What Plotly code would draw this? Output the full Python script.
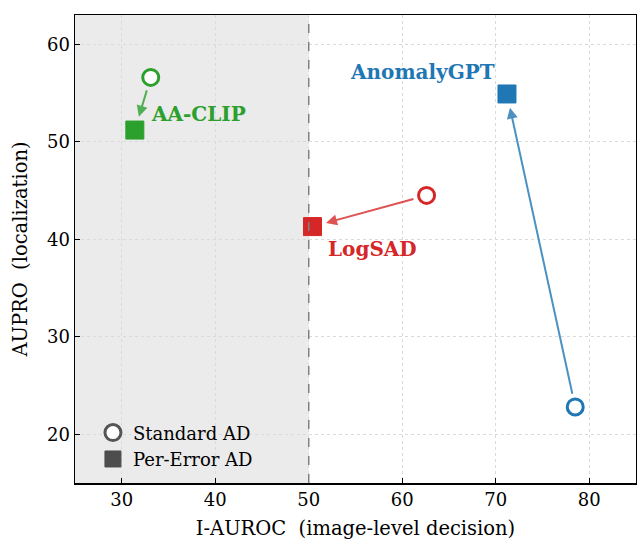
import plotly.graph_objects as go

methods = ["AA-CLIP", "LogSAD", "AnomalyGPT"]
std_auroc = [33.1, 62.6, 78.5]
std_aupro = [56.6, 44.5, 22.8]
pe_auroc = [31.4, 50.4, 71.2]
pe_aupro = [51.2, 41.3, 54.9]
threshold = 50
x_ticks = [30, 40, 50, 60, 70, 80]
y_ticks = [20, 30, 40, 50, 60]
x_title = "I-AUROC\u00a0\u00a0(image-level decision)"
y_title = "AUPRO\u00a0\u00a0(localization)"

colors = ["#2ca02c", "#d62728", "#1f77b4"]
arrow_colors = ["rgba(44,160,44,0.8)", "rgba(214,39,40,0.8)", "rgba(31,119,180,0.8)"]
label_pos = [(32.9, 52.85, "left"), (51.8, 38.95, "left"), (54.2, 57.2, "left")]

FONT = "DejaVu Serif"

fig = go.Figure()

for i, m in enumerate(methods):
    fig.add_trace(go.Scatter(
        x=[std_auroc[i]], y=[std_aupro[i]], mode="markers",
        marker=dict(symbol="circle", size=16, color="white",
                    line=dict(color=colors[i], width=3)),
        showlegend=False, hoverinfo="skip"))
    fig.add_trace(go.Scatter(
        x=[pe_auroc[i]], y=[pe_aupro[i]], mode="markers",
        marker=dict(symbol="square", size=18, color=colors[i],
                    line=dict(color=colors[i], width=1)),
        showlegend=False, hoverinfo="skip"))
    fig.add_annotation(
        x=pe_auroc[i], y=pe_aupro[i], ax=std_auroc[i], ay=std_aupro[i],
        xref="x", yref="y", axref="x", ayref="y", text="",
        showarrow=True, arrowhead=2, arrowsize=1.1, arrowwidth=2,
        arrowcolor=arrow_colors[i], standoff=14, startstandoff=12)
    lx, ly, anc = label_pos[i]
    fig.add_annotation(
        x=lx, y=ly, xref="x", yref="y", text="<b>%s</b>" % m,
        showarrow=False, xanchor=anc, yanchor="middle",
        font=dict(family=FONT, size=20, color=colors[i]))

# legend entries
fig.add_trace(go.Scatter(
    x=[None], y=[None], mode="markers", name="Standard AD",
    marker=dict(symbol="circle", size=16, color="white",
                line=dict(color="#555555", width=3))))
fig.add_trace(go.Scatter(
    x=[None], y=[None], mode="markers", name="Per-Error AD",
    marker=dict(symbol="square", size=18, color="#4d4d4d",
                line=dict(color="#4d4d4d", width=1))))

fig.add_shape(type="rect", xref="x", yref="paper", x0=25, x1=threshold, y0=0, y1=1,
              fillcolor="#ebebeb", line=dict(width=0), layer="below")
fig.add_shape(type="line", xref="x", yref="paper", x0=threshold, x1=threshold, y0=0, y1=1,
              line=dict(color="#808080", width=1.5, dash="dash"), layer="above")

axis_common = dict(
    showline=True, linecolor="black", linewidth=1.5, mirror=True,
    ticks="inside", ticklen=5, tickwidth=1, tickcolor="black",
    showgrid=True, gridcolor="#dadada", gridwidth=1, griddash="dot",
    zeroline=False, automargin=False,
    tickfont=dict(family=FONT, size=18, color="black"),
)

fig.update_xaxes(range=[25, 85], tickvals=x_ticks, **axis_common,
                 title=dict(text=x_title,
                            font=dict(family=FONT, size=19.5, color="black"), standoff=17))
fig.update_yaxes(range=[15, 63], tickvals=y_ticks, **axis_common,
                 title=dict(text=y_title,
                            font=dict(family=FONT, size=19.5, color="black"), standoff=14))

fig.update_layout(
    width=637, height=540,
    margin=dict(l=75, r=1, t=15, b=57),
    paper_bgcolor="white", plot_bgcolor="white",
    legend=dict(x=0.032, y=0.012, xanchor="left", yanchor="bottom",
                bgcolor="rgba(0,0,0,0)", borderwidth=0,
                font=dict(family=FONT, size=18, color="black")),
    font=dict(family=FONT),
)

# remove the browser's default 8px body margin so the figure fills the window exactly
fig.write_html("out.html",
               config={"displayModeBar": False, "staticPlot": True},
               post_script="document.body.style.margin='0';document.body.style.overflow='hidden';")
